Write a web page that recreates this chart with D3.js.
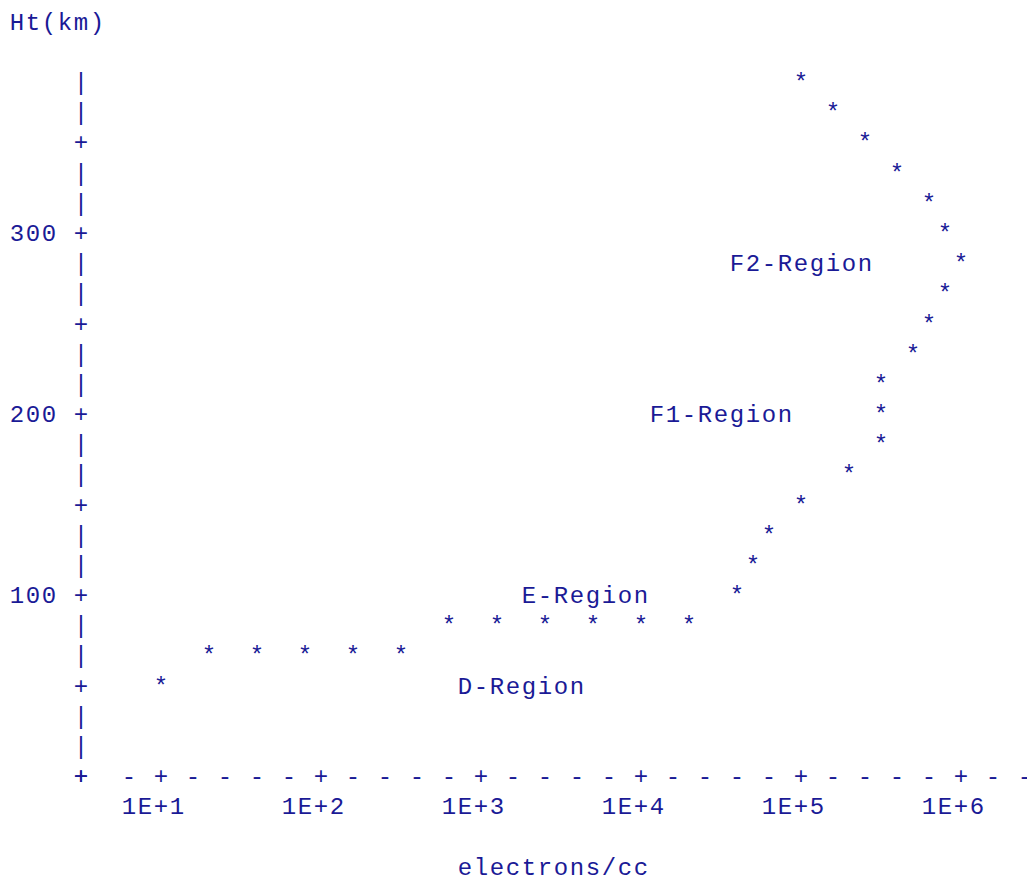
<!DOCTYPE html>
<html lang="en">
<head>
<meta charset="UTF-8">
<title>Electron density profile</title>
<script src="https://cdn.jsdelivr.net/npm/d3@7"></script>
<style>
    body { margin: 0; background: #fff; }
    svg text {
        font-family: "Courier New", "Liberation Mono", monospace;
        font-size: 24px;
        letter-spacing: 1.6px;
        fill: #1a1a96;
    }
</style>
</head>
<body>
<svg id="chart" width="1027" height="880"></svg>
<script>
// electron density (per cc) and height (km) of each plotted point
const density = [10, 20, 40, 80, 160, 320, 630, 1260, 2500, 5000, 10000, 20000,
    40000, 50000, 63000, 100000, 200000, 320000, 320000, 320000, 500000, 630000,
    800000, 1000000, 800000, 630000, 400000, 250000, 160000, 100000];
const heights = [50, 65, 65, 65, 65, 65, 85, 85, 85, 85, 85, 85,
    100, 115, 135, 150, 165, 185, 200, 215, 235, 250,
    265, 285, 300, 315, 335, 350, 365, 385];

// region annotations, in data units
const regionNames = ["D-Region", "E-Region", "F1-Region", "F2-Region"];
const regionDensity = [800, 2000, 12500, 40000];
const regionHeight = [50, 100, 200, 285];

const xTickValues = [1e1, 1e2, 1e3, 1e4, 1e5, 1e6];
const xTickLabels = ["1E+1", "1E+2", "1E+3", "1E+4", "1E+5", "1E+6"];
const yTickValues = [100, 200, 300];
const yTickLabels = ["100", "200", "300"];

// character grid (line printer style)
const cw = 16, rh = 30.17, left = 9, base = 29.8;
const colX = c => left + c * cw + 0.8;
const rowY = r => base + r * rh;

// scales map to grid columns / rows
const x = d3.scaleLog().domain([10, 1e6]).range([9, 59]);
const y = d3.scaleLinear().domain([0, 100]).range([25, 19]);
const axisCol = 4;
const axisRow = Math.round(y(0));

const svg = d3.select("#chart");

function put(g, c, r, s) {
    g.append("text").attr("x", colX(c)).attr("y", rowY(r)).text(s);
}

// y axis title
put(svg, 0, 0, "Ht(km)");

// y axis: '+' every 50 km, '|' between
const yAxis = svg.append("g");
const topRow = Math.round(y(d3.max(heights)));
d3.range(axisRow, topRow - 1, -1).forEach(r => {
    const h = y.invert(r);
    const isTick = Math.abs(h / 50 - Math.round(h / 50)) < 1e-6;
    put(yAxis, axisCol, r, isTick ? "+" : "|");
});
yTickValues.forEach((v, i) => put(yAxis, 0, Math.round(y(v)), yTickLabels[i]));

// x axis: '+' at decades, '-' every other column
const xAxis = svg.append("g");
put(xAxis, axisCol, axisRow, "+");
const tickCols = xTickValues.map(v => Math.round(x(v)));
d3.range(7, 65, 2).forEach(c => {
    put(xAxis, c, axisRow, tickCols.includes(c) ? "+" : "-");
});
xTickValues.forEach((v, i) => put(xAxis, Math.round(x(v)) - 2, axisRow + 1, xTickLabels[i]));

// x axis title
put(svg, 28, axisRow + 3, "electrons/cc");

// data points
const pts = svg.append("g");
density.forEach((d, i) => put(pts, Math.round(x(d)), Math.round(y(heights[i])), "*"));

// region labels
const lbl = svg.append("g");
regionNames.forEach((n, i) => put(lbl, Math.round(x(regionDensity[i])), Math.round(y(regionHeight[i])), n));
</script>
</body>
</html>
